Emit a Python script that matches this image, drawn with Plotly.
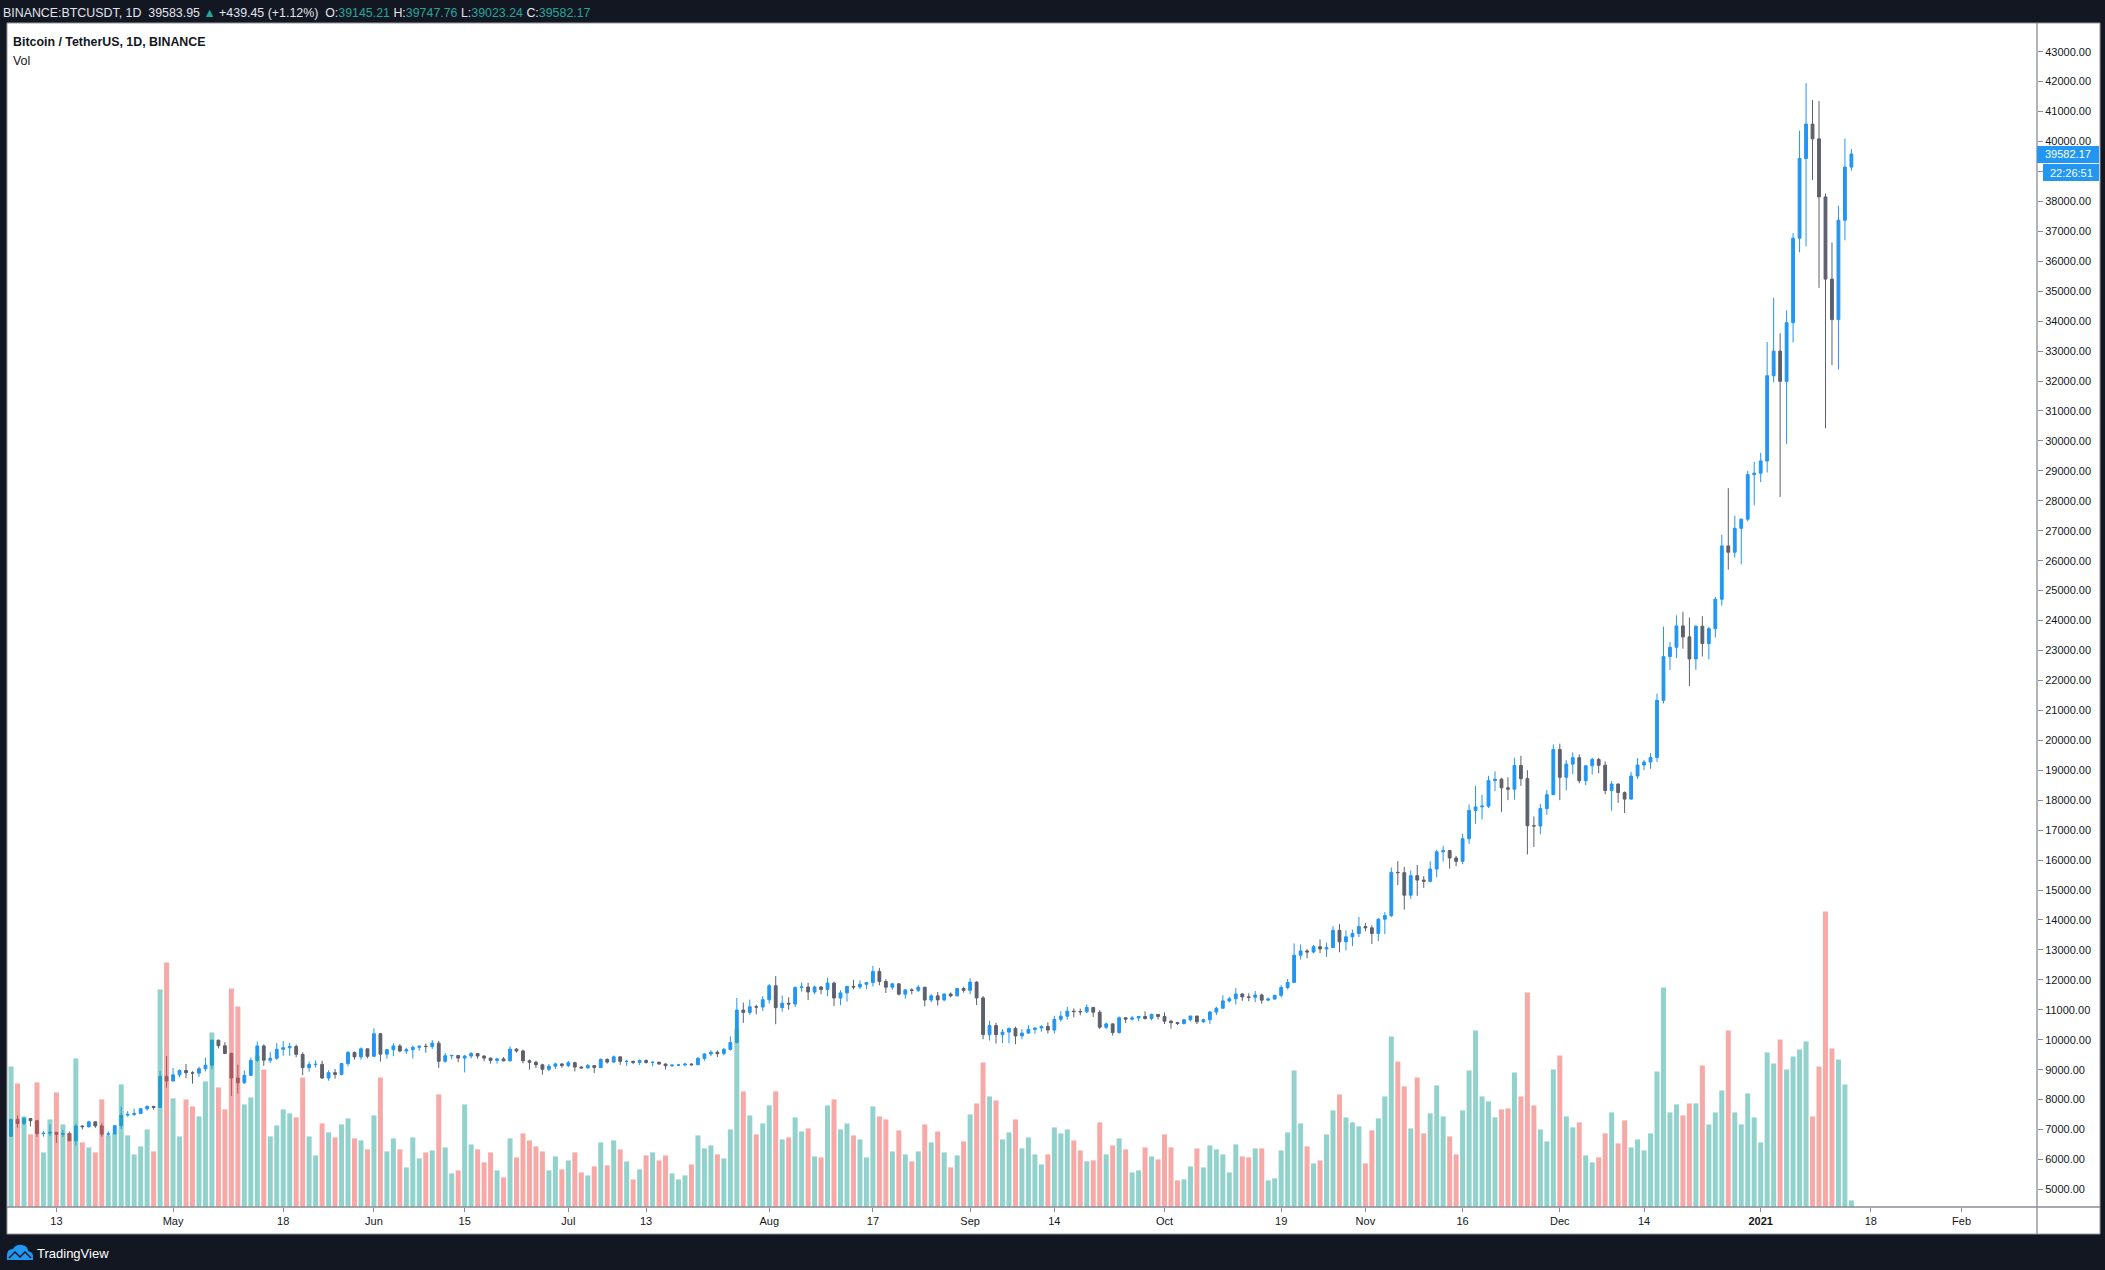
import pandas as pd
import plotly.graph_objects as go

# ==================== Data ====================
# daily candles, BINANCE:BTCUSDT, 2020-04-06 .. 2021-01-15
first_open = 6775.21

closes = [
    # Apr
    7336.96, 7201.80, 7369.60, 7296.40, 6863.40, 6877.60, 6907, 6842, 6863, 6623,
    7117, 7097, 7257, 7122, 6843, 6855, 7128, 7482, 7505, 7538,
    7693, 7774, 7738, 8778, 8620,
    # May
    8826, 8972, 8894, 8885, 9031, 9149, 9986, 9800, 9539, 8722,
    8561, 8810, 9310, 9791, 9316, 9381, 9680, 9733, 9775, 9511,
    9068, 9170, 9179, 8720, 8900, 8841, 9204, 9575, 9427, 9697, 9448,
    # Jun
    10200, 9518, 9666, 9789, 9621, 9666, 9746, 9782, 9772, 9885,
    9280, 9465, 9474, 9386, 9454, 9538, 9456, 9386, 9310, 9358,
    9294, 9685, 9624, 9296, 9249, 9162, 9012, 9116, 9192, 9138,
    # Jul
    9232, 9086, 9058, 9135, 9069, 9342, 9253, 9428, 9277, 9278,
    9240, 9303, 9243, 9247, 9188, 9132, 9151, 9159, 9185, 9164,
    9374, 9525, 9581, 9536, 9677, 9905, 10990, 10912, 11100, 11090, 11335,
    # Aug
    11801, 11071, 11219, 11191, 11744, 11762, 11594, 11761, 11681, 11892,
    11392, 11564, 11780, 11760, 11852, 11911, 12281, 11945, 11754, 11866,
    11522, 11664, 11649, 11753, 11325, 11466, 11330, 11526, 11465, 11711, 11650,
    # Sep
    11924, 11397, 10171, 10472, 10169, 10255, 10373, 10127, 10222, 10345,
    10392, 10442, 10323, 10680, 10786, 10954, 10939, 10933, 11080, 10920,
    10417, 10529, 10241, 10736, 10686, 10728, 10775, 10709, 10844, 10776,
    # Oct
    10619, 10570, 10542, 10666, 10792, 10599, 10668, 10925, 11050, 11296,
    11369, 11528, 11429, 11419, 11495, 11322, 11358, 11483, 11742, 11916,
    12823, 12965, 12931, 13108, 13031, 13075, 13654, 13271, 13437, 13546, 13781,
    # Nov
    13737, 13550, 14024, 14146, 15591, 15580, 14827, 15479, 15332, 15290,
    15701, 16276, 16317, 16069, 15957, 16713, 17659, 17776, 17802, 18655,
    18703, 18414, 18368, 19160, 18719, 17150, 17139, 17719, 18185, 19695,
    # Dec
    18765, 19204, 19421, 18650, 19147, 19359, 19166, 18324, 18541, 18254,
    18036, 18808, 19175, 19273, 19426, 21335, 22797, 23107, 23821, 23455,
    22719, 23810, 23232, 23729, 24712, 26493, 26281, 27079, 27385, 28875, 28924,
    # Jan
    29331, 32178, 33000, 31989, 33949, 36769, 39432, 40582, 40088, 38150,
    35404, 34051, 37371, 39145.21, 39582.17,
]

highs = [
    7371.92, 7469, 7420, 7377, 7315, 6944, 7177, 6909, 6987, 6933,
    7200, 7152, 7293, 7270, 7207, 6938, 7155, 7770, 7616, 7700,
    7717, 7796, 7780, 8952, 9460,
    9059, 9010, 9191, 8950, 9100, 9395, 9990, 9996, 9914, 9574,
    9168, 8978, 9398, 9938, 9845, 9588, 9888, 9950, 9897, 9842,
    9578, 9271, 9307, 9298, 8979, 9017, 9225, 9625, 9605, 9740, 9700,
    10380, 10228, 9690, 9881, 9854, 9735, 9802, 9800, 9877, 9990,
    9964, 9557, 9500, 9480, 9495, 9589, 9540, 9475, 9400, 9398,
    9422, 9780, 9720, 9670, 9340, 9298, 9196, 9191, 9238, 9205,
    9292, 9270, 9125, 9190, 9145, 9375, 9379, 9470, 9440, 9319,
    9300, 9343, 9344, 9276, 9268, 9209, 9183, 9194, 9233, 9219,
    9424, 9545, 9650, 9640, 9730, 10111, 11394, 11242, 11340, 11169, 11454,
    11861, 12123, 11473, 11418, 11780, 11915, 11900, 11808, 11797, 12067,
    11938, 11650, 11800, 12000, 11980, 11930, 12468, 12400, 12020, 11888,
    11878, 11689, 11718, 11824, 11768, 11530, 11595, 11545, 11580, 11719, 11768,
    12050, 11955, 11462, 10633, 10567, 10350, 10412, 10438, 10350, 10483,
    10400, 10481, 10582, 10800, 10950, 11100, 11045, 11038, 11180, 11080,
    10988, 10575, 10550, 10777, 10760, 10800, 10800, 10950, 10873, 10860,
    10915, 10668, 10600, 10687, 10800, 10800, 10700, 10950, 11104, 11487,
    11437, 11720, 11557, 11550, 11630, 11540, 11410, 11490, 11820, 12028,
    13217, 13185, 13027, 13165, 13350, 13244, 13793, 13859, 13650, 13677, 14100,
    13895, 13818, 14066, 14259, 15750, 15965, 15770, 15650, 15840, 15460,
    15965, 16340, 16480, 16339, 16139, 16880, 17858, 18476, 18179, 18815,
    18965, 18750, 18766, 19418, 19484, 19000, 17457, 17880, 18344, 19863,
    19888, 19342, 19598, 19527, 19177, 19420, 19420, 19294, 18639, 18557,
    18292, 18948, 19411, 19349, 19570, 21560, 23800, 23285, 24171, 24295,
    24102, 23837, 24145, 23794, 24789, 26867, 28422, 27500, 27410, 28996, 29300,
    29600, 33300, 34778, 33600, 34360, 36939, 40365, 41950, 41380, 41350,
    38264, 36628, 37850, 40100, 39747.76,
]

lows = [
    6771, 7061, 7150, 7108, 6758, 6765, 6780, 6555, 6751, 6616,
    6463, 7000, 7061, 7055, 6760, 6777, 6840, 7015, 7428, 7450,
    7521, 7636, 7660, 7726, 8400,
    8616, 8746, 8717, 8531, 8760, 8940, 9011, 9712, 9520, 8117,
    8200, 8528, 8792, 9256, 9130, 9220, 9328, 9464, 9464, 9417,
    8815, 8933, 9070, 8700, 8632, 8700, 8811, 9110, 9330, 9331, 9381,
    9417, 9266, 9365, 9450, 9581, 9531, 9372, 9633, 9570, 9690,
    9060, 9234, 9347, 9245, 8910, 9373, 9366, 9280, 9198, 9204,
    9281, 9277, 9570, 9208, 9000, 9050, 8833, 8948, 9024, 9064,
    9080, 8940, 9037, 9040, 8893, 9055, 9202, 9233, 9160, 9125,
    9185, 9153, 9200, 9113, 9165, 9005, 9088, 9128, 9115, 9132,
    9150, 9300, 9450, 9422, 9475, 9639, 9878, 10565, 10831, 10845, 10960,
    11210, 10518, 10936, 11000, 11093, 11604, 11322, 11512, 11521, 11450,
    11125, 11150, 11270, 11680, 11685, 11686, 11775, 11817, 11561, 11668,
    11485, 11376, 11514, 11595, 11115, 11251, 11138, 11286, 11416, 11447, 11573,
    11520, 11160, 10015, 9975, 9875, 9887, 9881, 9850, 10015, 10200,
    10200, 10266, 10207, 10212, 10605, 10670, 10745, 10812, 10887, 10762,
    10360, 10353, 10136, 10200, 10560, 10646, 10620, 10672, 10647, 10676,
    10525, 10370, 10491, 10505, 10610, 10525, 10560, 10530, 10825, 11049,
    11250, 11178, 11300, 11284, 11260, 11200, 11300, 11340, 11410, 11682,
    11898, 12678, 12720, 12880, 12888, 12768, 13063, 12920, 12983, 13125, 13429,
    13621, 13195, 13296, 13525, 14093, 15166, 14344, 14705, 14805, 15072,
    15256, 15427, 15952, 15713, 15797, 15864, 16538, 17214, 17353, 17740,
    18308, 17610, 18000, 18019, 18481, 16188, 16438, 16865, 17517, 18180,
    18001, 18330, 18867, 18565, 18500, 18857, 18902, 18200, 17650, 17911,
    17572, 18020, 18711, 19000, 19050, 19278, 21230, 22350, 22750, 23060,
    21815, 22353, 22800, 22703, 23433, 24500, 25700, 26101, 25880, 27320, 27850,
    28624, 28946, 31962, 28130, 29900, 33288, 36300, 36500, 38720, 35111,
    30420, 32531, 32380, 36701, 39023.24,
]

# volume (thousand BTC)
volumes = [
    70.3, 61.8, 45.3, 36.3, 62.3, 27.3, 43.8, 57.3, 41.3, 36.8,
    74.3, 32.3, 29.8, 27.3, 53.8, 35.8, 36.8, 61.3, 35.8, 26.3,
    30.3, 38.8, 27.8, 108.8, 122.3, 54.3, 35.3, 53.8, 50.3, 45.3,
    62.8, 87.3, 59.8, 48.8, 109.3, 100.3, 51.3, 54.8, 75.8, 68.8,
    35.3, 40.8, 48.8, 46.8, 44.8, 64.8, 35.3, 25.8, 41.8, 37.3,
    34.8, 41.3, 44.3, 34.3, 33.3, 28.8, 45.8, 64.8, 27.8, 34.3,
    28.8, 19.8, 34.8, 24.3, 27.3, 28.3, 56.3, 29.8, 16.8, 18.3,
    51.3, 31.3, 28.8, 22.3, 27.3, 18.3, 14.8, 34.3, 24.8, 36.8,
    33.3, 30.3, 27.8, 18.3, 25.3, 18.8, 23.3, 27.3, 17.3, 15.8,
    20.3, 32.3, 20.8, 33.3, 28.8, 22.8, 13.8, 18.8, 25.8, 27.3,
    23.3, 25.8, 16.8, 13.8, 15.8, 21.3, 35.8, 29.3, 30.8, 26.3,
    24.3, 38.8, 89.3, 57.8, 45.8, 36.3, 41.8, 50.8, 57.8, 33.8,
    34.8, 44.8, 37.8, 39.3, 25.3, 24.8, 50.8, 53.8, 38.8, 41.8,
    35.8, 33.8, 24.8, 50.3, 45.3, 43.8, 27.8, 38.3, 26.3, 22.8,
    27.8, 41.3, 32.3, 37.8, 27.3, 19.8, 25.8, 32.8, 46.3, 51.8,
    72.3, 55.3, 53.3, 33.8, 37.3, 43.8, 29.3, 34.8, 26.3, 21.3,
    26.3, 39.8, 36.8, 38.8, 33.3, 28.3, 22.8, 23.3, 42.3, 26.3,
    30.8, 34.3, 28.8, 17.3, 18.3, 29.8, 25.3, 23.8, 36.3, 29.8,
    13.3, 13.8, 20.3, 29.3, 19.8, 30.8, 28.8, 26.3, 17.3, 31.3,
    25.3, 24.8, 29.3, 29.3, 13.3, 14.3, 28.3, 37.3, 68.3, 41.8,
    30.3, 21.8, 23.3, 36.3, 48.3, 56.3, 44.8, 42.3, 40.3, 21.8,
    38.3, 44.3, 55.3, 85.3, 72.8, 60.3, 39.3, 64.8, 36.8, 46.8,
    60.8, 45.3, 35.3, 26.3, 48.3, 68.3, 88.3, 55.3, 52.8, 44.8,
    48.8, 49.3, 67.3, 55.3, 107.3, 50.8, 38.8, 32.8, 68.8, 75.8,
    45.3, 39.8, 42.3, 25.8, 22.3, 24.8, 36.8, 47.3, 31.8, 43.3,
    29.8, 33.8, 28.3, 36.8, 67.8, 109.8, 47.3, 51.3, 45.8, 51.8,
    51.8, 70.8, 41.3, 47.3, 58.3, 88.3, 47.3, 41.3, 56.8, 44.8,
    32.3, 77.3, 71.8, 83.8, 68.8, 75.3, 78.8, 82.8, 45.3, 70.3,
    147.8, 79.3, 73.8, 61.3, 3.3,
]

tick_dates = ['2020-04-13', '2020-05-01', '2020-05-18', '2020-06-01', '2020-06-15',
              '2020-07-01', '2020-07-13', '2020-08-01', '2020-08-17', '2020-09-01',
              '2020-09-14', '2020-10-01', '2020-10-19', '2020-11-01', '2020-11-16',
              '2020-12-01', '2020-12-14', '2021-01-01', '2021-01-18', '2021-02-01']
tick_labels = ['13', 'May', '18', 'Jun', '15', 'Jul', '13', 'Aug', '17', 'Sep',
               '14', 'Oct', '19', 'Nov', '16', 'Dec', '14', '<b>2021</b>', '18', 'Feb']
price_ticks = [5000, 6000, 7000, 8000, 9000, 10000, 11000, 12000, 13000, 14000,
               15000, 16000, 17000, 18000, 19000, 20000, 21000, 22000, 23000, 24000,
               25000, 26000, 27000, 28000, 29000, 30000, 31000, 32000, 33000, 34000,
               35000, 36000, 37000, 38000, 39000, 40000, 41000, 42000, 43000]

assert len(closes) == len(highs) == len(lows) == len(volumes) == 285

dates = pd.date_range('2020-04-06', periods=len(closes), freq='D')
opens = [first_open] + closes[:-1]

UP = '#2196F3'
DOWN = '#5D606B'
VOL_UP = 'rgba(38,166,154,0.5)'
VOL_DOWN = 'rgba(239,83,80,0.5)'
vol_colors = [VOL_UP if c >= o else VOL_DOWN for o, c in zip(opens, closes)]

W, H = 2105, 1270
L, R, T, B = 7, 2037, 23, 1207   # plot area in pixels


def px(x):
    return (x - L) / (R - L)


def py(y):
    return (B - y) / (B - T)


NARROW = 'Liberation Sans Narrow, Liberation Sans, Arial'
REG = 'Liberation Sans, Arial'

# ==================== Figure ====================
fig = go.Figure()

fig.add_trace(go.Candlestick(
    x=dates, open=opens, high=highs, low=lows, close=closes,
    increasing=dict(line=dict(color=UP, width=1), fillcolor=UP),
    decreasing=dict(line=dict(color=DOWN, width=1), fillcolor=DOWN),
    whiskerwidth=0, hoverinfo='skip', showlegend=False,
))

fig.add_trace(go.Bar(
    x=dates, y=volumes, yaxis='y2',
    marker=dict(color=vol_colors, line=dict(width=0)),
    hoverinfo='skip', showlegend=False,
))

# ==================== Layout ====================
shapes = [
    # white chart + axis panel
    dict(type='rect', xref='paper', yref='paper', layer='below',
         x0=px(7), x1=px(2100), y0=py(1234), y1=py(23),
         fillcolor='white', line=dict(color='#9598A1', width=1)),
    # axis lines
    dict(type='line', xref='paper', yref='paper', layer='above',
         x0=px(7), x1=px(2100), y0=py(1207), y1=py(1207),
         line=dict(color='#8A8D96', width=1.3)),
    dict(type='line', xref='paper', yref='paper', layer='above',
         x0=px(2037), x1=px(2037), y0=py(23), y1=py(1234),
         line=dict(color='#8A8D96', width=1.3)),
    # last price + countdown boxes
    dict(type='rect', xref='paper', yref='paper', layer='above',
         x0=px(2037), x1=px(2099), y0=py(163), y1=py(146),
         fillcolor=UP, line=dict(width=0)),
    dict(type='rect', xref='paper', yref='paper', layer='above',
         x0=px(2043), x1=px(2099), y0=py(181), y1=py(164),
         fillcolor=UP, line=dict(width=0)),
    # TradingView logo cloud
    dict(type='path', xref='paper', yref='paper', layer='above',
         path=(f'M {px(7)},{py(1260)} L {px(7)},{py(1255)} '
               f'Q {px(7)},{py(1249)} {px(13)},{py(1249)} '
               f'Q {px(16)},{py(1244)} {px(22)},{py(1245)} '
               f'Q {px(28)},{py(1246)} {px(28)},{py(1251)} '
               f'Q {px(33)},{py(1252)} {px(33)},{py(1256)} '
               f'L {px(33)},{py(1260)} Z'),
         fillcolor=UP, line=dict(width=0)),
    dict(type='path', xref='paper', yref='paper', layer='above',
         path=(f'M {px(9)},{py(1258)} L {px(15)},{py(1252)} L {px(20)},{py(1257)} '
               f'L {px(25)},{py(1252)} L {px(31)},{py(1258)}'),
         line=dict(color='#131722', width=1.5)),
]

header = ('BINANCE:BTCUSDT, 1D  39583.95 <span style="color:#26A69A">▲</span> '
          '+439.45 (+1.12%)  O:<span style="color:#26A69A">39145.21</span> '
          'H:<span style="color:#26A69A">39747.76</span> '
          'L:<span style="color:#26A69A">39023.24</span> '
          'C:<span style="color:#26A69A">39582.17</span>')

annotations = [
    dict(text=header, xref='paper', yref='paper', x=px(1), y=py(12.5),
         xanchor='left', yanchor='middle', showarrow=False,
         font=dict(family=NARROW, size=12.4, color='#E0E3EB')),
    dict(text='<b>Bitcoin / TetherUS, 1D, BINANCE</b>', xref='paper', yref='paper',
         x=px(11), y=py(42), xanchor='left', yanchor='middle', showarrow=False,
         font=dict(family=NARROW, size=12.4, color='#131722')),
    dict(text='Vol', xref='paper', yref='paper', x=px(11), y=py(61),
         xanchor='left', yanchor='middle', showarrow=False,
         font=dict(family=NARROW, size=12.4, color='#131722')),
    dict(text='39582.17', xref='paper', yref='paper', x=px(2068), y=py(154.5),
         xanchor='center', yanchor='middle', showarrow=False,
         font=dict(family=REG, size=11, color='white')),
    dict(text='22:26:51', xref='paper', yref='paper', x=px(2071), y=py(172.5),
         xanchor='center', yanchor='middle', showarrow=False,
         font=dict(family=REG, size=11, color='white')),
    dict(text='TradingView', xref='paper', yref='paper', x=px(35), y=py(1253),
         xanchor='left', yanchor='middle', showarrow=False,
         font=dict(family=REG, size=13, color='#FFFFFF')),
]

# x range: half a bar before the first candle, empty space after the last one
x_start = dates[0] - pd.Timedelta(hours=15)
x_end = dates[0] + pd.Timedelta(days=312.64)

fig.update_layout(
    width=W, height=H,
    margin=dict(l=L, r=W - R, t=T, b=H - B, pad=0),
    paper_bgcolor='#131722',
    plot_bgcolor='white',
    showlegend=False,
    hovermode=False,
    boxgap=0.38,
    bargap=0.23,
    xaxis=dict(
        type='date', range=[x_start, x_end],
        rangeslider=dict(visible=False),
        tickvals=tick_dates, ticktext=tick_labels,
        ticks='outside', ticklen=4, tickcolor='#8A8D96', tickwidth=1,
        tickfont=dict(family=REG, size=11, color='#131722'),
        showgrid=False, zeroline=False, showline=False,
    ),
    yaxis=dict(
        side='right', range=[4413, 43958],
        tickvals=price_ticks, tickformat='.2f',
        ticks='outside', ticklen=5, tickcolor='#8A8D96', tickwidth=1,
        tickfont=dict(family=REG, size=11, color='#131722'),
        showgrid=False, zeroline=False, showline=False,
    ),
    yaxis2=dict(
        overlaying='y', range=[0, 592], visible=False,
        showgrid=False, zeroline=False,
    ),
    shapes=shapes,
    annotations=annotations,
)

# page body has a default 8px margin; drop it so the figure fills the window
fig.write_html("out.html", config={'displayModeBar': False},
               post_script="document.body.style.margin='0px';"
                           "document.body.style.overflow='hidden';")
